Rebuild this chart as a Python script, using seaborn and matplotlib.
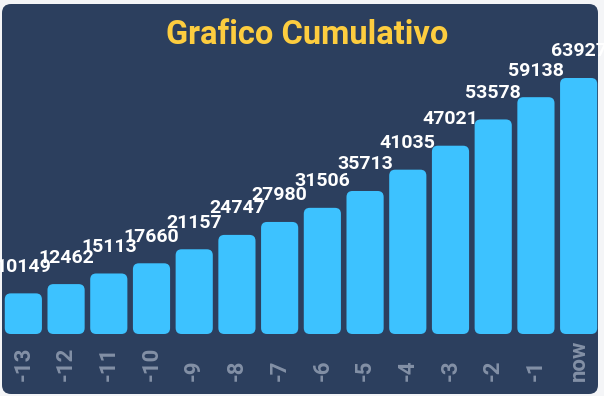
import matplotlib
matplotlib.use("Agg")
import matplotlib.pyplot as plt
import seaborn as sns
import pandas as pd
from matplotlib.patches import FancyBboxPatch

categories = ["-13", "-12", "-11", "-10", "-9", "-8", "-7", "-6", "-5", "-4", "-3", "-2", "-1", "now"]
values = [10149, 12462, 15113, 17660, 21157, 24747, 27980, 31506, 35713, 41035, 47021, 53578, 59138, 63927]
title = "Grafico Cumulativo"

BG = "#2c3f5e"
BAR = "#3dc2ff"
TITLE_C = "#fdcd3f"
TICK_C = "#8390a6"

sns.set_theme(style="white")
plt.rcParams["font.family"] = ["Roboto", "DejaVu Sans"]

W, H = 604, 396
fig = plt.figure(figsize=(W / 100, H / 100), dpi=100)
fig.patch.set_facecolor("#f4f5f7")

# rounded panel
panel = FancyBboxPatch((2 / W, 2 / H), 596 / W, 390 / H,
                       boxstyle="round,pad=0,rounding_size=0.015",
                       mutation_aspect=W / H,
                       transform=fig.transFigure, facecolor=BG, edgecolor="none", zorder=-5)
fig.patches.append(panel)

ax = fig.add_axes([2 / W, 62 / H, 598 / W, 332 / H])
ax.set_facecolor("none")
ax.set_zorder(2)

df = pd.DataFrame({"cat": categories, "val": values})
sns.barplot(data=df, x="cat", y="val", color=BAR, width=0.87, ax=ax, saturation=1)

ax.set_xlim(-0.5, len(categories) - 0.5)
ax.set_ylim(0, max(values) * (332 / 256))

fig.canvas.draw()
# convert bars to rounded ones
px_per_x = ax.transData.transform((1, 0))[0] - ax.transData.transform((0, 0))[0]
px_per_y = ax.transData.transform((0, 1))[1] - ax.transData.transform((0, 0))[1]
r_px = 6
rx = r_px / px_per_x
ry = r_px / px_per_y
for p in list(ax.patches):
    x0, y0, w, h = p.get_x(), p.get_y(), p.get_width(), p.get_height()
    p.remove()
    fb = FancyBboxPatch((x0, y0), w, h,
                        boxstyle=f"round,pad=0,rounding_size={rx}",
                        mutation_aspect=ry / rx,
                        facecolor=BAR, edgecolor="none", zorder=2, clip_on=False)
    ax.add_patch(fb)
    ax.annotate(f"{int(round(h))}", (x0 + w / 2, h), xytext=(0, 15.5), textcoords="offset points",
                ha="center", va="baseline", color="white", fontsize=14, fontweight="bold",
                annotation_clip=False, clip_on=False)

ax.set_xlabel("")
ax.set_ylabel("")
ax.set_yticks([])
ax.tick_params(axis="x", length=0, pad=34, labelsize=16, labelcolor=TICK_C)
for lab in ax.get_xticklabels():
    lab.set_rotation(90)
    lab.set_fontweight("bold")
    lab.set_va("bottom")
for s in ax.spines.values():
    s.set_visible(False)

fig.text(0.508, 1 - 44 / H, title, ha="center", va="baseline", color=TITLE_C,
         fontsize=23.5, fontweight="bold")

fig.savefig("out.png", dpi=100, facecolor=fig.get_facecolor())
